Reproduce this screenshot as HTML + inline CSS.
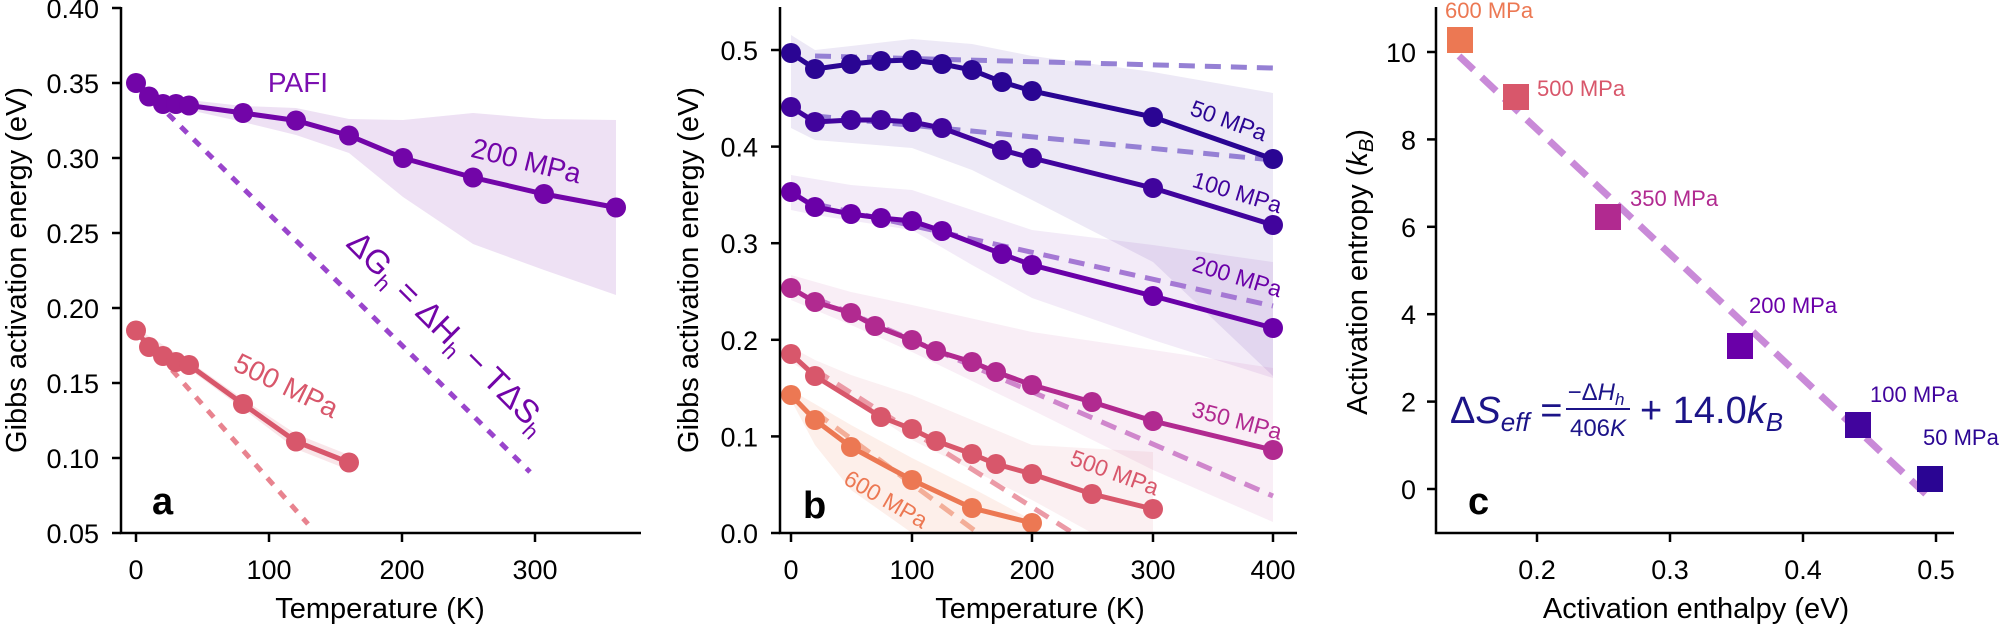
<!DOCTYPE html>
<html><head><meta charset="utf-8"><style>
html,body{margin:0;padding:0;background:#fff;}
svg{display:block;font-family:"Liberation Sans",sans-serif;}
</style></head><body>
<svg width="2000" height="628" viewBox="0 0 2000 628" xmlns="http://www.w3.org/2000/svg">
<defs>
<clipPath id="ca"><rect x="121" y="0" width="530" height="533"/></clipPath>
<clipPath id="cb"><rect x="780" y="0" width="530" height="533"/></clipPath>
</defs>

<!-- ================= PANEL A ================= -->
<g clip-path="url(#ca)">
<polygon fill="#7205a8" fill-opacity="0.12" points="136,83 149,95 163,101 176,101 189,100 243,106 296,108 349,119 403,120 473,113 544,119 616,120 616,295 544,270 473,244 403,197 349,153 296,135 243,122 189,110 176,108 163,107 149,99 136,85"/>
<polygon fill="#d8576b" fill-opacity="0.15" points="136,328 189,361 243,399 296,434 349,455 349,470 296,449 243,409 189,369 136,333"/>
<line x1="168" y1="114" x2="530" y2="472" stroke="#9a45cc" stroke-width="5" stroke-dasharray="9,9"/>
<line x1="172" y1="370" x2="308" y2="524" stroke="#e8838f" stroke-width="5" stroke-dasharray="9,9"/>
<polyline fill="none" stroke="#7205a8" stroke-width="5" points="136,83 149,96.5 163,104 176,104 189,105.5 243,113 296,120.5 349,135.5 403,158 473,177.5 544,194 616,207.5"/>
<g fill="#7205a8">
<circle cx="136" cy="83" r="10"/><circle cx="149" cy="96.5" r="10"/><circle cx="163" cy="104" r="10"/><circle cx="176" cy="104" r="10"/><circle cx="189" cy="105.5" r="10"/><circle cx="243" cy="113" r="10"/><circle cx="296" cy="120.5" r="10"/><circle cx="349" cy="135.5" r="10"/><circle cx="403" cy="158" r="10"/><circle cx="473" cy="177.5" r="10"/><circle cx="544" cy="194" r="10"/><circle cx="616" cy="207.5" r="10"/>
</g>
<polyline fill="none" stroke="#d8576b" stroke-width="5" points="136,330.5 149,347 163,356 176,362 189,365 243,404 296,441.5 349,462.5"/>
<g fill="#d8576b">
<circle cx="136" cy="330.5" r="10"/><circle cx="149" cy="347" r="10"/><circle cx="163" cy="356" r="10"/><circle cx="176" cy="362" r="10"/><circle cx="189" cy="365" r="10"/><circle cx="243" cy="404" r="10"/><circle cx="296" cy="441.5" r="10"/><circle cx="349" cy="462.5" r="10"/>
</g>
</g>
<!-- axes a -->
<g stroke="#000" stroke-width="2.5" fill="none">
<polyline points="121,7 121,533 641,533"/>
<line x1="112" y1="8" x2="121" y2="8"/><line x1="112" y1="83" x2="121" y2="83"/><line x1="112" y1="158" x2="121" y2="158"/><line x1="112" y1="233" x2="121" y2="233"/><line x1="112" y1="308" x2="121" y2="308"/><line x1="112" y1="383" x2="121" y2="383"/><line x1="112" y1="458" x2="121" y2="458"/><line x1="112" y1="533" x2="121" y2="533"/>
<line x1="136" y1="533" x2="136" y2="542"/><line x1="269" y1="533" x2="269" y2="542"/><line x1="402" y1="533" x2="402" y2="542"/><line x1="535" y1="533" x2="535" y2="542"/>
</g>
<g font-size="27" text-anchor="end" fill="#000">
<text x="99" y="18">0.40</text><text x="99" y="93">0.35</text><text x="99" y="168">0.30</text><text x="99" y="243">0.25</text><text x="99" y="318">0.20</text><text x="99" y="393">0.15</text><text x="99" y="468">0.10</text><text x="99" y="543">0.05</text>
</g>
<g font-size="27" text-anchor="middle" fill="#000">
<text x="136" y="579">0</text><text x="269" y="579">100</text><text x="402" y="579">200</text><text x="535" y="579">300</text>
</g>
<text x="380" y="618" font-size="29" text-anchor="middle">Temperature (K)</text>
<text transform="translate(26,270) rotate(-90)" font-size="29" text-anchor="middle">Gibbs activation energy (eV)</text>
<text x="152" y="514" font-size="38" font-weight="bold">a</text>
<text x="298" y="92" font-size="28" fill="#7b0fb0" text-anchor="middle">PAFI</text>
<text transform="translate(524,170) rotate(14)" font-size="28" fill="#7205a8" text-anchor="middle">200 MPa</text>
<text transform="translate(282,394) rotate(26)" font-size="28" fill="#d8576b" text-anchor="middle">500 MPa</text>
<text transform="translate(440,340) rotate(45)" font-size="33" fill="#7205a8" text-anchor="middle">ΔG<tspan font-size="22" dy="8">h</tspan><tspan dy="-8"> = ΔH</tspan><tspan font-size="22" dy="8">h</tspan><tspan dy="-8"> − TΔS</tspan><tspan font-size="22" dy="8">h</tspan></text>

<!-- ================= PANEL B ================= -->
<g clip-path="url(#cb)">
<!-- bands -->
<polygon fill="#3a0a9a" fill-opacity="0.09" points="791,35 815,50 851,46 912,39 972,44 1032,56 1153,72 1273,93 1273,376 1153,262 1032,200 972,170 912,148 815,140 791,128 791,90"/>
<polygon fill="#6a00a8" fill-opacity="0.08" points="791,175 851,185 912,190 972,210 1032,230 1153,245 1273,262 1273,378 1153,340 1032,298 972,265 912,230 815,215 791,210"/>
<polygon fill="#b12a90" fill-opacity="0.08" points="791,275 851,292 912,305 1032,332 1153,350 1273,368 1273,522 1153,470 1032,410 912,352 851,325 791,300"/>
<polygon fill="#d8576b" fill-opacity="0.09" points="791,347 815,360 851,375 912,395 972,420 1032,445 1153,452 1153,533 1092,533 1032,500 972,470 912,440 851,400 791,362"/>
<polygon fill="#ec7853" fill-opacity="0.12" points="791,390 851,425 912,458 972,488 1032,520 1032,533 912,533 851,490 815,445 791,400"/>
<!-- dashed fits -->
<g fill="none" stroke-width="5" stroke-dasharray="16,10">
<line x1="815" y1="56" x2="1273" y2="68" stroke="#9580d4"/>
<line x1="815" y1="116" x2="1273" y2="160" stroke="#9580d4"/>
<line x1="815" y1="204" x2="1273" y2="306" stroke="#a578d4"/>
<line x1="815" y1="298" x2="1273" y2="496" stroke="#cf86cc"/>
<line x1="815" y1="370" x2="1073" y2="533" stroke="#eb9aa6"/>
<line x1="815" y1="412" x2="978" y2="533" stroke="#f3ae98"/>
</g>
<!-- series -->
<g fill="none" stroke-width="5">
<polyline stroke="#2a0593" points="791,53 815,69 851,64 881,61 912,60 942,64 972,70 1002,82 1032,91 1153,117 1273,159"/>
<polyline stroke="#41049d" points="791,107 815,122 851,120 881,120 912,122 942,128 1002,150 1032,158 1153,188 1273,225"/>
<polyline stroke="#6a00a8" points="791,192 815,207 851,214 881,218 912,221 942,231 1002,254 1032,265 1153,296 1273,328"/>
<polyline stroke="#b12a90" points="791,288 815,302 851,313 875,326 912,340 936,351 972,362 996,372 1032,385 1092,402 1153,421 1273,450"/>
<polyline stroke="#d8576b" points="791,354 815,376 881,417 912,429 936,441 972,454 996,464 1032,474 1092,494 1153,509"/>
<polyline stroke="#ec7853" points="791,395 815,420 851,447 912,480 972,508 1032,523"/>
</g>
<g fill="#2a0593"><circle cx="791" cy="53" r="10"/><circle cx="815" cy="69" r="10"/><circle cx="851" cy="64" r="10"/><circle cx="881" cy="61" r="10"/><circle cx="912" cy="60" r="10"/><circle cx="942" cy="64" r="10"/><circle cx="972" cy="70" r="10"/><circle cx="1002" cy="82" r="10"/><circle cx="1032" cy="91" r="10"/><circle cx="1153" cy="117" r="10"/><circle cx="1273" cy="159" r="10"/></g>
<g fill="#41049d"><circle cx="791" cy="107" r="10"/><circle cx="815" cy="122" r="10"/><circle cx="851" cy="120" r="10"/><circle cx="881" cy="120" r="10"/><circle cx="912" cy="122" r="10"/><circle cx="942" cy="128" r="10"/><circle cx="1002" cy="150" r="10"/><circle cx="1032" cy="158" r="10"/><circle cx="1153" cy="188" r="10"/><circle cx="1273" cy="225" r="10"/></g>
<g fill="#6a00a8"><circle cx="791" cy="192" r="10"/><circle cx="815" cy="207" r="10"/><circle cx="851" cy="214" r="10"/><circle cx="881" cy="218" r="10"/><circle cx="912" cy="221" r="10"/><circle cx="942" cy="231" r="10"/><circle cx="1002" cy="254" r="10"/><circle cx="1032" cy="265" r="10"/><circle cx="1153" cy="296" r="10"/><circle cx="1273" cy="328" r="10"/></g>
<g fill="#b12a90"><circle cx="791" cy="288" r="10"/><circle cx="815" cy="302" r="10"/><circle cx="851" cy="313" r="10"/><circle cx="875" cy="326" r="10"/><circle cx="912" cy="340" r="10"/><circle cx="936" cy="351" r="10"/><circle cx="972" cy="362" r="10"/><circle cx="996" cy="372" r="10"/><circle cx="1032" cy="385" r="10"/><circle cx="1092" cy="402" r="10"/><circle cx="1153" cy="421" r="10"/><circle cx="1273" cy="450" r="10"/></g>
<g fill="#d8576b"><circle cx="791" cy="354" r="10"/><circle cx="815" cy="376" r="10"/><circle cx="881" cy="417" r="10"/><circle cx="912" cy="429" r="10"/><circle cx="936" cy="441" r="10"/><circle cx="972" cy="454" r="10"/><circle cx="996" cy="464" r="10"/><circle cx="1032" cy="474" r="10"/><circle cx="1092" cy="494" r="10"/><circle cx="1153" cy="509" r="10"/></g>
<g fill="#ec7853"><circle cx="791" cy="395" r="10"/><circle cx="815" cy="420" r="10"/><circle cx="851" cy="447" r="10"/><circle cx="912" cy="480" r="10"/><circle cx="972" cy="508" r="10"/><circle cx="1032" cy="523" r="10"/></g>
</g>
<!-- axes b -->
<g stroke="#000" stroke-width="2.5" fill="none">
<polyline points="780,7 780,533 1297,533"/>
<line x1="771" y1="50" x2="780" y2="50"/><line x1="771" y1="146.6" x2="780" y2="146.6"/><line x1="771" y1="243.2" x2="780" y2="243.2"/><line x1="771" y1="339.8" x2="780" y2="339.8"/><line x1="771" y1="436.4" x2="780" y2="436.4"/><line x1="771" y1="533" x2="780" y2="533"/>
<line x1="791" y1="533" x2="791" y2="542"/><line x1="912" y1="533" x2="912" y2="542"/><line x1="1032" y1="533" x2="1032" y2="542"/><line x1="1153" y1="533" x2="1153" y2="542"/><line x1="1273" y1="533" x2="1273" y2="542"/>
</g>
<g font-size="27" text-anchor="end">
<text x="758" y="60">0.5</text><text x="758" y="156.6">0.4</text><text x="758" y="253.2">0.3</text><text x="758" y="349.8">0.2</text><text x="758" y="446.4">0.1</text><text x="758" y="543">0.0</text>
</g>
<g font-size="27" text-anchor="middle">
<text x="791" y="579">0</text><text x="912" y="579">100</text><text x="1032" y="579">200</text><text x="1153" y="579">300</text><text x="1273" y="579">400</text>
</g>
<text x="1040" y="618" font-size="29" text-anchor="middle">Temperature (K)</text>
<text transform="translate(698,270) rotate(-90)" font-size="29" text-anchor="middle">Gibbs activation energy (eV)</text>
<text x="803" y="518" font-size="38" font-weight="bold">b</text>
<g font-size="23" text-anchor="middle">
<text transform="translate(1226,128) rotate(20)" fill="#2a0593">50 MPa</text>
<text transform="translate(1235,200) rotate(17)" fill="#41049d">100 MPa</text>
<text transform="translate(1235,284) rotate(17)" fill="#6a00a8">200 MPa</text>
<text transform="translate(1235,428) rotate(15)" fill="#b12a90">350 MPa</text>
<text transform="translate(1112,480) rotate(20)" fill="#d8576b">500 MPa</text>
<text transform="translate(882,506) rotate(30)" fill="#ec7853">600 MPa</text>
</g>

<!-- ================= PANEL C ================= -->
<line x1="1459" y1="56" x2="1930" y2="498" stroke="#c98ad8" stroke-width="7" stroke-dasharray="20,11"/>
<rect x="1447" y="27" width="26" height="26" fill="#ec7853"/>
<rect x="1503" y="84" width="26" height="26" fill="#d8576b"/>
<rect x="1595" y="204" width="26" height="26" fill="#b12a90"/>
<rect x="1727" y="333" width="26" height="26" fill="#6a00a8"/>
<rect x="1845" y="412" width="26" height="26" fill="#41049d"/>
<rect x="1917" y="466" width="26" height="26" fill="#2a0593"/>
<g stroke="#000" stroke-width="2.5" fill="none">
<polyline points="1436,7 1436,533 1954,533"/>
<line x1="1427" y1="52" x2="1436" y2="52"/><line x1="1427" y1="139.4" x2="1436" y2="139.4"/><line x1="1427" y1="226.8" x2="1436" y2="226.8"/><line x1="1427" y1="314.2" x2="1436" y2="314.2"/><line x1="1427" y1="401.6" x2="1436" y2="401.6"/><line x1="1427" y1="489" x2="1436" y2="489"/>
<line x1="1537" y1="533" x2="1537" y2="542"/><line x1="1670" y1="533" x2="1670" y2="542"/><line x1="1803" y1="533" x2="1803" y2="542"/><line x1="1936" y1="533" x2="1936" y2="542"/>
</g>
<g font-size="27" text-anchor="end">
<text x="1416" y="62">10</text><text x="1416" y="149.4">8</text><text x="1416" y="236.8">6</text><text x="1416" y="324.2">4</text><text x="1416" y="411.6">2</text><text x="1416" y="499">0</text>
</g>
<g font-size="27" text-anchor="middle">
<text x="1537" y="579">0.2</text><text x="1670" y="579">0.3</text><text x="1803" y="579">0.4</text><text x="1936" y="579">0.5</text>
</g>
<text x="1696" y="618" font-size="29" text-anchor="middle">Activation enthalpy (eV)</text>
<text transform="translate(1367,272) rotate(-90)" font-size="29" text-anchor="middle">Activation entropy (<tspan font-style="italic">k</tspan><tspan font-size="20" font-style="italic" dy="6">B</tspan><tspan dy="-6">)</tspan></text>
<text x="1468" y="514" font-size="38" font-weight="bold">c</text>
<g font-size="22">
<text x="1445" y="18" fill="#ec7853">600 MPa</text>
<text x="1537" y="96" fill="#d8576b">500 MPa</text>
<text x="1630" y="206" fill="#b12a90">350 MPa</text>
<text x="1749" y="313" fill="#6a00a8">200 MPa</text>
<text x="1870" y="402" fill="#41049d">100 MPa</text>
<text x="1923" y="445" fill="#2a0593">50 MPa</text>
</g>
<g fill="#1c1488">
<text x="1450" y="423" font-size="38">Δ<tspan font-style="italic">S</tspan><tspan font-size="26" font-style="italic" dy="8">eff</tspan><tspan dy="-8"> =</tspan></text>
<text x="1596" y="400" font-size="24" text-anchor="middle">−Δ<tspan font-style="italic">H</tspan><tspan font-size="17" font-style="italic" dy="5">h</tspan></text>
<line x1="1566" y1="409" x2="1630" y2="409" stroke="#1c1488" stroke-width="2"/>
<text x="1598" y="436" font-size="24" text-anchor="middle">406<tspan font-style="italic">K</tspan></text>
<text x="1640" y="423" font-size="38">+ 14.0<tspan font-style="italic">k</tspan><tspan font-size="26" font-style="italic" dy="8">B</tspan></text>
</g>
</svg>
</body></html>
